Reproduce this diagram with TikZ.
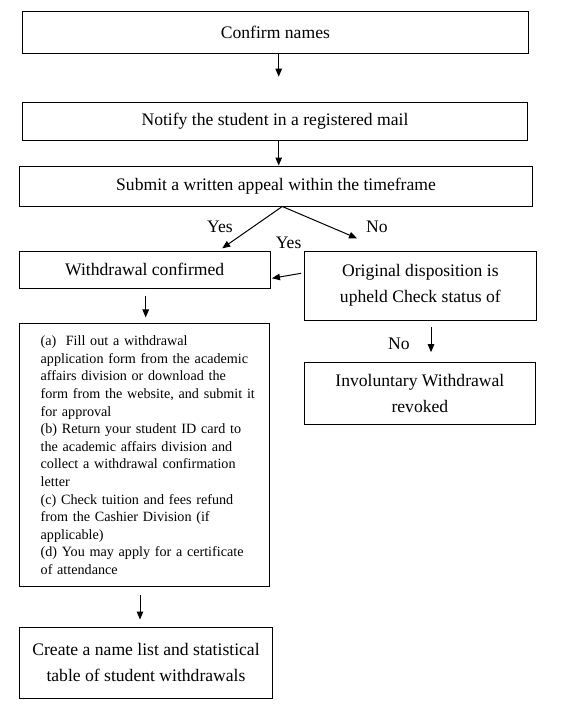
\documentclass[tikz,border=0pt]{standalone}
\usepackage{fontspec}
\setmainfont{Liberation Serif}
\usetikzlibrary{arrows.meta,calc}
\newcommand\mainfs{\fontsize{17.6pt}{26pt}\selectfont}
\newcommand\listfs{\fontsize{14.15pt}{17.6pt}\selectfont}
\begin{document}
\begin{tikzpicture}[x=1pt,y=-1pt,
  box/.style={draw, line width=1pt, inner sep=0pt, align=center, font=\mainfs},
  arr/.style={line width=1pt, -{Triangle[length=8pt,width=6.5pt]}},
  lbl/.style={inner sep=0pt, font=\mainfs}]
\fill[white] (0,0) rectangle (571,713);
\useasboundingbox (0,0) rectangle (571,713);
% boxes
\node[box, minimum width=505.6pt, minimum height=41.6pt] (b1) at (275.4,32.5) {Confirm names};
\node[box, minimum width=505pt, minimum height=37.7pt] (b2) at (275,121.2) {Notify the student in a registered mail};
\node[box, minimum width=513.3pt, minimum height=40pt] (b3) at (276,186) {Submit a written appeal within the timeframe};
\node[box, minimum width=251.3pt, minimum height=37.3pt] (b4) at (144.7,269.7) {Withdrawal confirmed};
\node[box, minimum width=232.4pt, minimum height=69pt] (b5) at (420.4,285.5) {Original disposition is\\upheld Check status of};
\node[box, minimum width=231.3pt, minimum height=62.3pt] (b6) at (419.9,393.8) {Involuntary Withdrawal\\revoked};
\node[box, font=\listfs, align=left, text width=250pt, minimum height=262.7pt] (list) at (144.3,455.3)
 {\leftskip=21.4pt\relax
 (a)\ \ Fill out a withdrawal\\
 application form from the academic\\
 affairs division or download the\\
 form from the website, and submit it\\
 for approval\\
 (b) Return your student ID card to\\
 the academic affairs division and\\
 collect a withdrawal confirmation\\
 letter\\
 (c) Check tuition and fees refund\\
 from the Cashier Division (if\\
 applicable)\\
 (d) You may apply for a certificate\\
 of attendance\par};
\node[box, minimum width=253.4pt, minimum height=71pt] (b7) at (146,662.8) {Create a name list and statistical\\table of student withdrawals};
% labels
\node[lbl] (yes1) at (220,226.7) {Yes};
\node[lbl] (no1) at (377,227) {No};
\node[lbl] (yes2) at (288.6,243.3) {Yes};
\node[lbl] (no2) at (399,344) {No};
% free ends
\coordinate (t1) at (278.7,76.7);
\coordinate (tl) at (222.2,248.3);
\coordinate (tr) at (357,238.3);
\coordinate (x4) at (145.7,0);
\coordinate (x5) at (431,0);
\coordinate (x6) at (140,0);
% connectors
\draw[arr] (b1.south -| t1) -- (t1);
\draw[arr] (b2.south -| t1) -- (b3.north -| t1);
\draw[arr] ($(b3.south)+(6.3,0)$) -- (tl);
\draw[arr] ($(b3.south)+(6.3,0)$) -- (tr);
\draw[arr] ($(b5.west)+(-2.6,-12.2)$) -- ($(b4.east)+(1.1,8.6)$);
\draw[arr, shorten <=6.7pt, shorten >=6pt] (b4.south -| x4) -- (list.north -| x4);
\draw[arr, shorten <=6.7pt, shorten >=10pt] (b5.south -| x5) -- (b6.north -| x5);
\draw[arr, shorten <=8.3pt, shorten >=7.3pt] (list.south -| x6) -- (b7.north -| x6);
\end{tikzpicture}
\end{document}
